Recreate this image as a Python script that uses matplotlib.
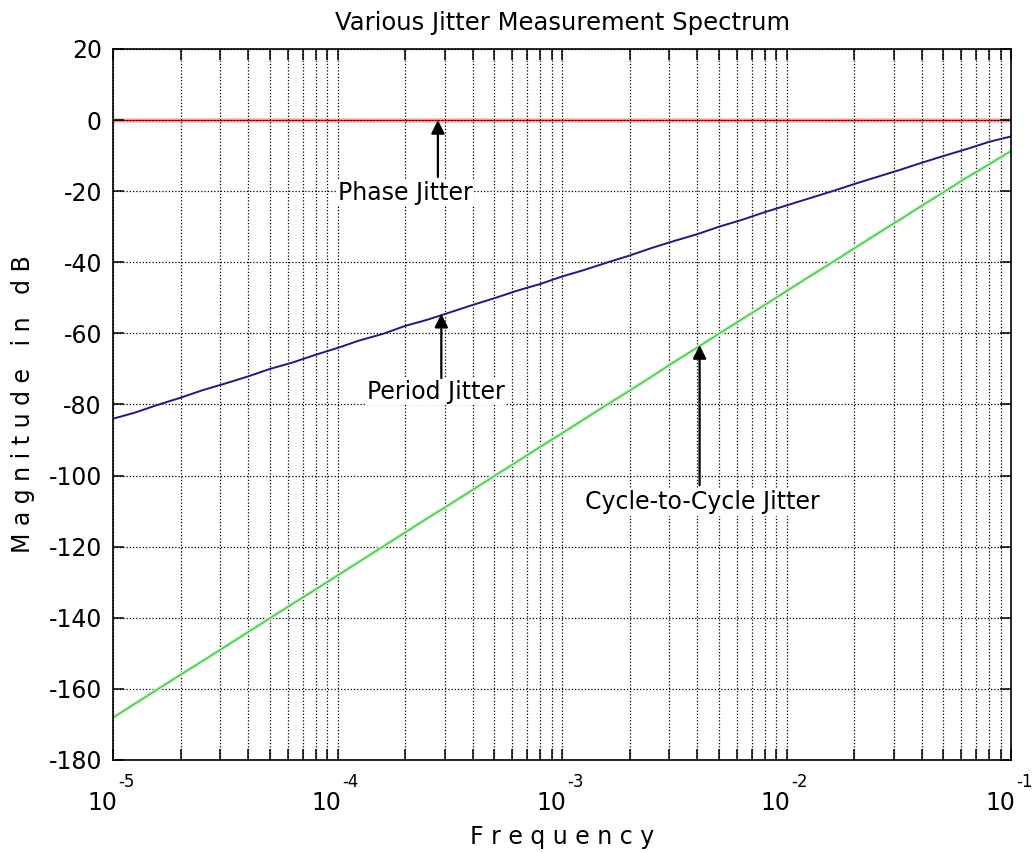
import matplotlib
matplotlib.use("Agg")
import matplotlib.pyplot as plt
import matplotlib.patheffects as pe
import matplotlib.transforms as mtransforms
from matplotlib.ticker import LogLocator, FixedLocator

plt.rcParams['font.family'] = ['DejaVu Sans']
plt.rcParams['axes.unicode_minus'] = False

# frequency points (1, 1.25, 1.6, 2, 2.5, 3.2, 4, 5, 6.3, 8 per decade)
freq = [1e-5, 1.25e-5, 1.6e-5, 2e-5, 2.5e-5, 3.2e-5, 4e-5, 5e-5, 6.3e-5, 8e-5,
        1e-4, 1.25e-4, 1.6e-4, 2e-4, 2.5e-4, 3.2e-4, 4e-4, 5e-4, 6.3e-4, 8e-4,
        1e-3, 1.25e-3, 1.6e-3, 2e-3, 2.5e-3, 3.2e-3, 4e-3, 5e-3, 6.3e-3, 8e-3,
        1e-2, 1.25e-2, 1.6e-2, 2e-2, 2.5e-2, 3.2e-2, 4e-2, 5e-2, 6.3e-2, 8e-2,
        1e-1]

phase_db = [0.0] * len(freq)

period_db = [-84.0, -82.3, -80.0, -78.1, -76.0, -74.0, -72.1, -70.0, -68.2, -66.0,
             -64.1, -62.0, -60.1, -57.9, -56.2, -54.0, -52.0, -50.1, -48.0, -46.1,
             -44.0, -42.2, -40.0, -38.1, -36.0, -33.9, -32.1, -30.0, -28.1, -25.9,
             -24.0, -22.1, -20.0, -18.0, -16.1, -14.0, -12.0, -10.1, -8.2, -6.1,
             -4.6]

c2c_db = [-168.1, -164.2, -159.9, -156.0, -152.2, -147.9, -144.0, -140.1, -136.1, -132.0,
          -128.1, -124.2, -119.9, -116.0, -112.1, -107.9, -104.0, -100.1, -96.1, -91.9,
          -88.1, -84.2, -79.9, -76.1, -72.2, -67.8, -64.0, -60.1, -56.1, -52.0,
          -48.1, -44.2, -40.0, -36.1, -32.2, -28.0, -24.1, -20.3, -16.3, -12.4,
          -8.7]

yticks = [-180, -160, -140, -120, -100, -80, -60, -40, -20, 0, 20]
decades = [1e-5, 1e-4, 1e-3, 1e-2, 1e-1]
exponents = ['-5', '-4', '-3', '-2', '-1']

fig = plt.figure(figsize=(10.32, 8.52), dpi=100)
ax = fig.add_axes([0.1095, 0.108, 0.8702, 0.8345])

ax.semilogx(freq, phase_db, color='#e01010', lw=1.0, zorder=1,
            path_effects=[pe.Stroke(linewidth=3.5, foreground='#f7c8c8'), pe.Normal()])
ax.semilogx(freq, period_db, color='#1c1c7c', lw=1.4, zorder=2)
ax.semilogx(freq, c2c_db, color='#44cc44', lw=1.1, zorder=2,
            path_effects=[pe.Stroke(linewidth=3, foreground='#d6f2d6'), pe.Normal()])

ax.set_xlim(1e-5, 1e-1)
ax.set_ylim(-180, 20)
ax.yaxis.set_major_locator(FixedLocator(yticks))
ax.xaxis.set_major_locator(FixedLocator(decades))
ax.xaxis.set_minor_locator(LogLocator(base=10, subs=range(2, 10), numticks=10))

ax.grid(True, which='both', axis='x', color='k', linestyle=(0, (1, 1.6)), lw=0.9)
ax.grid(True, which='major', axis='y', color='k', linestyle=(0, (1, 1.6)), lw=0.9)

ax.tick_params(which='both', direction='in', top=True, right=True, width=1.1)
ax.tick_params(which='major', length=8, labelsize=17, pad=8)
ax.tick_params(which='minor', length=8)
ax.tick_params(axis='x', labelbottom=False)
for s in ax.spines.values():
    s.set_linewidth(1.2)

# decade labels drawn as "10" with a raised exponent
xform = mtransforms.blended_transform_factory(ax.transData, ax.transAxes)
for f, e in zip(decades, exponents):
    base = mtransforms.offset_copy(xform, fig=fig, x=4, y=-43, units='dots')
    ax.text(f, 0, '10', transform=base, fontsize=17, ha='right', va='center', clip_on=False)
    sup = mtransforms.offset_copy(xform, fig=fig, x=5, y=-22, units='dots')
    ax.text(f, 0, e, transform=sup, fontsize=12, ha='left', va='center', clip_on=False)

ax.set_title('Various Jitter Measurement Spectrum', fontsize=17.5, pad=14)
ax.set_xlabel('F r e q u e n c y', fontsize=17)
ax.xaxis.set_label_coords(0.5, -0.092)
ax.set_ylabel('M a g n i t u d e   i n   d B', fontsize=17, labelpad=10)

arrow = dict(arrowstyle='-|>', color='k', lw=1.6, mutation_scale=20, shrinkA=0, shrinkB=0)
ax.annotate('', xy=(2.8e-4, 0), xytext=(2.8e-4, -16.0), arrowprops=arrow)
ax.text(2.0e-4, -20.5, 'Phase Jitter', fontsize=17, ha='center', va='center',
        bbox=dict(facecolor='white', edgecolor='none', pad=1))
ax.annotate('', xy=(2.9e-4, -54.5), xytext=(2.9e-4, -72.6), arrowprops=arrow)
ax.text(2.73e-4, -76.5, 'Period Jitter', fontsize=17, ha='center', va='center',
        bbox=dict(facecolor='white', edgecolor='none', pad=1))
ax.annotate('', xy=(4.1e-3, -63.3), xytext=(4.1e-3, -102.7), arrowprops=arrow)
ax.text(4.2e-3, -107.5, 'Cycle-to-Cycle Jitter', fontsize=17, ha='center', va='center',
        bbox=dict(facecolor='white', edgecolor='none', pad=1))

fig.savefig('out.png', dpi=100, facecolor='white')
